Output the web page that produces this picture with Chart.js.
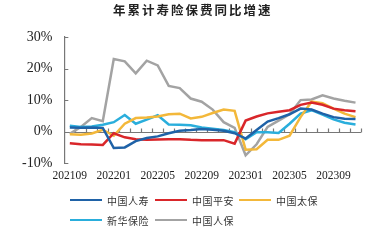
<!DOCTYPE html>
<html>
<head>
<meta charset="utf-8">
<script src="https://cdn.jsdelivr.net/npm/chart.js@4"></script>
<style>
  html, body { margin:0; padding:0; background:#fff; }
  #wrap { position:relative; width:375px; height:240px; overflow:hidden; }
  #title { position:absolute; left:113px; top:2px; font-family:"Noto Sans CJK SC", sans-serif; font-weight:700; font-size:12.5px; letter-spacing:2px; color:#222; line-height:16px; white-space:nowrap; }
  .lg { position:absolute; height:14px; display:flex; align-items:center; font-family:"Noto Sans CJK SC", sans-serif; font-size:10px; letter-spacing:0.5px; color:#333; white-space:nowrap; }
  .lg i { display:inline-block; width:32px; height:2.5px; margin-right:5px; }
</style>
</head>
<body>
<div id="wrap">
  <canvas id="c" width="375" height="240"></canvas>
  <div id="title">年累计寿险保费同比增速</div>
  <div id="legend"></div>
</div>
<script>
const categories = ['202109','202110','202111','202112','202201','202202','202203','202204','202205','202206','202207','202208','202209','202210','202211','202212','202301','202302','202303','202304','202305','202306','202307','202308','202309','202310','202311'];
const seriesNames = ['中国人寿','中国平安','中国太保','新华保险','中国人保'];
const chinaLife  = [1.3, 1.2, 1.3, 1.2, -5.2, -5.0, -3.0, -2.0, -1.5, -0.5, 0.3, 0.5, 0.8, 0.6, 0.3, -0.5, -2.2, 0.5, 3.2, 4.3, 5.5, 7.3, 7.0, 5.7, 4.6, 4.1, 4.0];
const pingAn     = [-3.7, -4.0, -4.1, -4.2, -0.5, -1.8, -2.4, -2.6, -2.5, -2.4, -2.4, -2.6, -2.7, -2.7, -2.7, -3.8, 3.5, 4.8, 5.8, 6.3, 6.8, 8.5, 9.2, 8.5, 7.3, 6.8, 6.5];
const cpic       = [-0.8, -1.0, -0.6, 0.6, -1.3, 2.5, 4.3, 4.5, 4.8, 5.5, 5.7, 4.2, 4.7, 5.9, 7.0, 6.6, -5.7, -5.6, -2.6, -2.6, -1.3, 4.6, 9.5, 9.0, 7.3, 5.7, 4.6];
const nci        = [1.9, 1.5, 1.6, 2.2, 3.0, 5.3, 2.5, 3.8, 5.2, 2.3, 2.2, 2.0, 1.3, 0.9, 0.5, -0.2, -2.4, -0.2, -0.2, -0.4, 2.5, 5.7, 6.8, 5.4, 3.9, 2.8, 2.3];
const picc       = [-0.7, 1.5, 4.3, 3.3, 23.0, 22.3, 18.5, 22.5, 21.0, 14.5, 13.8, 10.5, 9.5, 7.0, 3.0, 1.2, -7.5, -4.0, 1.5, 3.5, 5.5, 10.0, 10.2, 11.5, 10.5, 9.8, 9.2];
const yTicks = [-10, 0, 10, 20, 30];
const xLabelEvery = 4;

const colors = ['#1f62a7', '#d9262a', '#f3b83a', '#2aaedc', '#a3a3a3'];
const seriesData = [chinaLife, pingAn, cpic, nci, picc];

const axisDeco = {
  id: 'axisDeco',
  beforeDatasetsDraw(chart) {
    const ctx = chart.ctx, x = chart.scales.x, y = chart.scales.y, a = chart.chartArea;
    ctx.save();
    ctx.strokeStyle = '#777';
    ctx.lineWidth = 1.2;
    const y0 = Math.round(y.getPixelForValue(0)) + 0.5;
    ctx.beginPath();
    ctx.moveTo(a.left, y0); ctx.lineTo(a.right, y0);
    const n = categories.length;
    const step = x.getPixelForValue(1) - x.getPixelForValue(0);
    for (let i = 1; i <= n; i++) {
      const px = Math.round(x.getPixelForValue(i - 1) + step / 2) + 0.5;
      ctx.moveTo(px, y0); ctx.lineTo(px, y0 - 4);
    }
    yTicks.forEach(v => {
      const py = Math.round(y.getPixelForValue(v)) + 0.5;
      ctx.moveTo(a.left, py); ctx.lineTo(a.left + 4, py);
    });
    ctx.stroke();
    ctx.restore();
  }
};

new Chart(document.getElementById('c'), {
  type: 'line',
  data: {
    labels: categories,
    datasets: seriesNames.map((name, k) => ({
      label: name,
      data: seriesData[k],
      borderColor: colors[k],
      backgroundColor: colors[k],
      borderWidth: 2.5,
      pointRadius: 0,
      tension: 0,
      fill: false
    }))
  },
  options: {
    responsive: false,
    animation: false,
    layout: { padding: { top: 37, left: 10, right: 14, bottom: 51 } },
    plugins: { legend: { display: false }, title: { display: false }, tooltip: { enabled: false } },
    scales: {
      x: {
        offset: true,
        grid: { display: false, drawTicks: false },
        border: { display: false },
        ticks: {
          autoSkip: false, maxRotation: 0, padding: 6,
          color: '#222',
          font: { family: 'Liberation Serif', size: 11.5 },
          callback: (v, i) => (i % xLabelEvery === 0 ? categories[i] : '')
        }
      },
      y: {
        min: -10, max: 30,
        afterBuildTicks: s => { s.ticks = yTicks.map(v => ({ value: v })); },
        grid: { display: false, drawTicks: false },
        border: { display: true, color: '#777', width: 1.2 },
        ticks: {
          padding: 12, color: '#222',
          font: { family: 'Liberation Serif', size: 14 },
          callback: v => v + '%'
        }
      }
    }
  },
  plugins: [axisDeco]
});

const legendPos = [[70, 193], [155, 193], [239, 193], [70, 213], [155, 213]];
const lg = document.getElementById('legend');
seriesNames.forEach((name, k) => {
  const d = document.createElement('div');
  d.className = 'lg';
  d.style.left = legendPos[k][0] + 'px';
  d.style.top = legendPos[k][1] + 'px';
  const sw = document.createElement('i');
  sw.style.background = colors[k];
  d.appendChild(sw);
  d.appendChild(document.createTextNode(name));
  lg.appendChild(d);
});
</script>
</body>
</html>
